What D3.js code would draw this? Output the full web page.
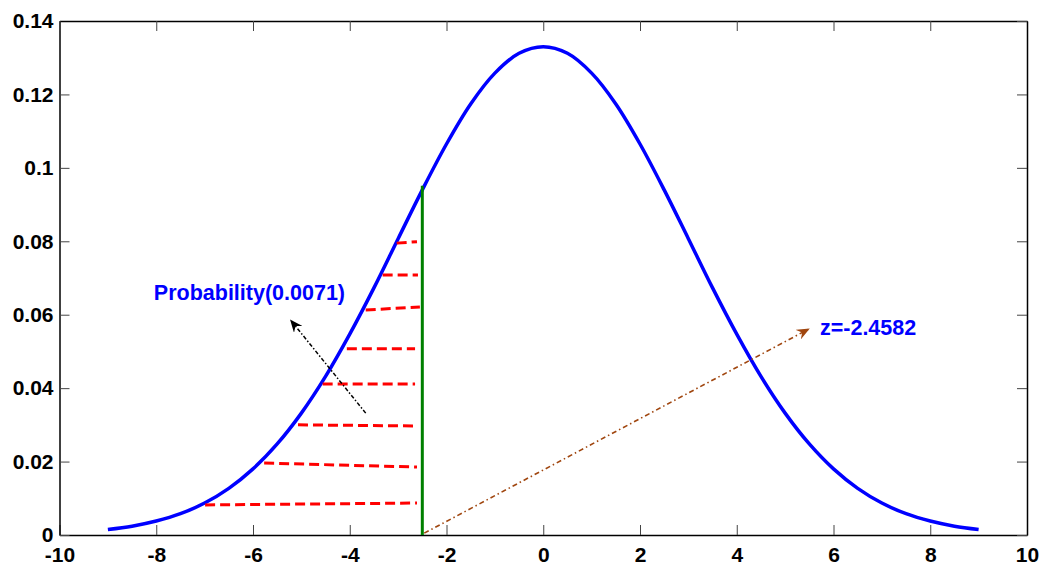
<!DOCTYPE html>
<html>
<head>
<meta charset="utf-8">
<script src="https://cdn.jsdelivr.net/npm/d3@7"></script>
<style>
  html, body { margin: 0; padding: 0; background: #fff; }
  svg text { font-family: "Liberation Sans", Arial, sans-serif; font-weight: bold; }
</style>
</head>
<body>
<svg id="chart" width="1045" height="567"></svg>
<script>
// curve (x from -9 to 9, step 0.5)
const curveX = d3.range(-9, 9.01, 0.5);
const curveY = [0.0015, 0.0024, 0.0038, 0.0058, 0.0087, 0.0127, 0.0180, 0.0248, 0.0332, 0.0432,
  0.0547, 0.0673, 0.0807, 0.0940, 0.1065, 0.1174, 0.1258, 0.1312, 0.1330,
  0.1312, 0.1258, 0.1174, 0.1065, 0.0940, 0.0807, 0.0673, 0.0547, 0.0432, 0.0332,
  0.0248, 0.0180, 0.0127, 0.0087, 0.0058, 0.0038, 0.0024, 0.0015];

// vertical green line (z value)
const zX = -2.5;
const zTop = 0.0951;

// red dashed hatch lines: [x1, y1, x2, y2]
const hatchLines = [
  [-3.03, 0.0795, -2.61, 0.0799],
  [-3.32, 0.0708, -2.59, 0.0708],
  [-3.67, 0.0613, -2.55, 0.0621],
  [-4.06, 0.0507, -2.65, 0.0507],
  [-4.56, 0.0411, -2.65, 0.0411],
  [-5.07, 0.0300, -2.61, 0.0297],
  [-5.77, 0.0196, -2.61, 0.0185],
  [-6.99, 0.0082, -2.61, 0.0087]
];

// arrows: [x1, y1, x2, y2]
const probArrow = [-3.67, 0.0332, -5.22, 0.0585];
const zArrow = [-2.46, 0.0005, 5.49, 0.0561];

const probLabel = "Probability(0.0071)";
const probLabelPos = [-8.05, 0.0640];
const zLabel = "z=-2.4582";
const zLabelPos = [5.72, 0.0545];

const xTicks = [-10, -8, -6, -4, -2, 0, 2, 4, 6, 8, 10];
const yTicks = [0, 0.02, 0.04, 0.06, 0.08, 0.1, 0.12, 0.14];
const yTickLabels = ["0", "0.02", "0.04", "0.06", "0.08", "0.1", "0.12", "0.14"];

// plot area
const plotLeft = 59.5, plotRight = 1027, plotTop = 21, plotBottom = 535;

const svg = d3.select("#chart");
const x = d3.scaleLinear().domain([-10, 10]).range([plotLeft, plotRight]);
const y = d3.scaleLinear().domain([0, 0.14]).range([plotBottom, plotTop]);

// markers for arrowheads
const defs = svg.append("defs");
function addHead(id, color) {
  defs.append("marker")
    .attr("id", id)
    .attr("viewBox", "0 0 12 10")
    .attr("refX", 11)
    .attr("refY", 5)
    .attr("markerWidth", 13)
    .attr("markerHeight", 11)
    .attr("markerUnits", "userSpaceOnUse")
    .attr("orient", "auto")
    .append("path")
    .attr("d", "M0,0 L12,5 L0,10 L4,5 Z")
    .attr("fill", color);
}
addHead("headBlack", "#000");
addHead("headBrown", "#a0460f");

// axes
//-----------------------------------------------------------//
const gx = svg.append("g").attr("transform", `translate(0,${plotBottom})`)
  .call(d3.axisBottom(x).tickValues(xTicks).tickFormat(d => String(d))
    .tickSize(-10).tickSizeOuter(0).tickPadding(12));
const gy = svg.append("g").attr("transform", `translate(${plotLeft},0)`)
  .call(d3.axisLeft(y).tickValues(yTicks).tickFormat((d, i) => yTickLabels[i])
    .tickSize(-10).tickSizeOuter(0).tickPadding(6));
const gxTop = svg.append("g").attr("transform", `translate(0,${plotTop})`)
  .call(d3.axisTop(x).tickValues(xTicks).tickSize(-10).tickSizeOuter(0).tickFormat(""));
const gyRight = svg.append("g").attr("transform", `translate(${plotRight},0)`)
  .call(d3.axisRight(y).tickValues(yTicks).tickSize(-10).tickSizeOuter(0).tickFormat(""));

[gx, gy, gxTop, gyRight].forEach(g => {
  g.select(".domain").attr("stroke", "#000").attr("stroke-width", 1.5);
  g.selectAll(".tick line").attr("stroke", "#444").attr("stroke-width", 1);
  g.selectAll(".tick text")
    .attr("fill", "#000")
    .style("font-size", "21px")
    .style("font-family", '"Liberation Sans", Arial, sans-serif')
    .style("font-weight", "bold");
});

// blue curve
//-----------------------------------------------------------//
const line = d3.line()
  .x((d, i) => x(curveX[i]))
  .y(d => y(d))
  .curve(d3.curveCatmullRom);

svg.append("path")
  .datum(curveY)
  .attr("d", line)
  .attr("fill", "none")
  .attr("stroke", "#0000ff")
  .attr("stroke-width", 3.5);

// red hatch lines
svg.selectAll(".hatch")
  .data(hatchLines)
  .join("line")
  .attr("class", "hatch")
  .attr("x1", d => x(d[0]))
  .attr("y1", d => y(d[1]))
  .attr("x2", d => x(d[2]))
  .attr("y2", d => y(d[3]))
  .attr("stroke", "#ff0000")
  .attr("stroke-width", 3)
  .attr("stroke-dasharray", "10,5");

// green z line
svg.append("line")
  .attr("x1", x(zX)).attr("x2", x(zX))
  .attr("y1", y(0)).attr("y2", y(zTop))
  .attr("stroke", "#008000")
  .attr("stroke-width", 3);

// arrows
svg.append("line")
  .attr("x1", x(probArrow[0])).attr("y1", y(probArrow[1]))
  .attr("x2", x(probArrow[2])).attr("y2", y(probArrow[3]))
  .attr("stroke", "#000")
  .attr("stroke-width", 1.5)
  .attr("stroke-dasharray", "4,2,1.5,2")
  .attr("marker-end", "url(#headBlack)");

svg.append("line")
  .attr("x1", x(zArrow[0])).attr("y1", y(zArrow[1]))
  .attr("x2", x(zArrow[2])).attr("y2", y(zArrow[3]))
  .attr("stroke", "#a0460f")
  .attr("stroke-width", 1.6)
  .attr("stroke-dasharray", "5,3,1.5,3")
  .attr("marker-end", "url(#headBrown)");

// labels
svg.append("text")
  .attr("x", x(probLabelPos[0]))
  .attr("y", y(probLabelPos[1]))
  .attr("fill", "#0000ff")
  .style("font-size", "21.5px")
  .text(probLabel);

svg.append("text")
  .attr("x", x(zLabelPos[0]))
  .attr("y", y(zLabelPos[1]))
  .attr("fill", "#0000ff")
  .style("font-size", "21.5px")
  .text(zLabel);
</script>
</body>
</html>
